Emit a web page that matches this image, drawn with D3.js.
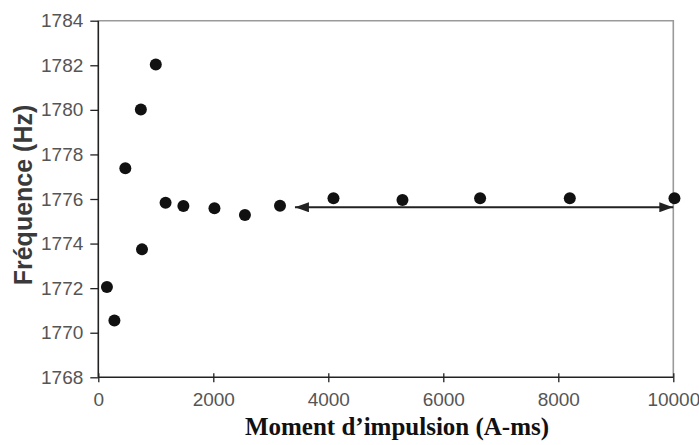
<!DOCTYPE html>
<html><head><meta charset="utf-8">
<script src="https://cdn.jsdelivr.net/npm/d3@7"></script>
<style>body{margin:0;background:#fff}svg{display:block}</style>
</head><body><svg id="c" width="699" height="445"></svg>
<script>
const impulse = [150, 280, 470, 760, 740, 1000, 1170, 1480, 2020, 2550, 3160, 4090, 5290, 6640, 8200, 10020];
const freq = [1772.05, 1770.55, 1777.38, 1773.74, 1780.02, 1782.04, 1775.83, 1775.69, 1775.58, 1775.28, 1775.7, 1776.03, 1775.95, 1776.03, 1776.03, 1776.03];
const xTicks = [0, 2000, 4000, 6000, 8000, 10000];
const yTicks = [1768, 1770, 1772, 1774, 1776, 1778, 1780, 1782, 1784];
const arrowRange = [3420, 10000];
const arrowY = 1775.63;

const svg = d3.select('#c');
const L = 98.3, R = 673.3, T = 20.7, B = 377.3;
const x = d3.scaleLinear().domain([0, 10000]).range([L, R]);
const y = d3.scaleLinear().domain([1768, 1784]).range([B, T]);

// top / right frame
svg.append('path').attr('d', `M${L},${T}H${R}V${B}`).attr('fill','none').attr('stroke','#9a9a9a').attr('stroke-width',1.6);

const gy = svg.append('g').attr('transform', `translate(${L},0)`)
  .call(d3.axisLeft(y).tickValues(yTicks).tickFormat(d3.format('d')).tickSize(8).tickPadding(7));
const gx = svg.append('g').attr('transform', `translate(0,${B})`)
  .call(d3.axisBottom(x).tickValues(xTicks).tickFormat(d3.format('d')).tickSize(6).tickPadding(9));
gx.selectAll('.tick line').attr('y1', -4).attr('y2', 5);
[gx, gy].forEach(g => {
  g.select('.domain').attr('stroke', '#222').attr('stroke-width', 1.6);
  g.selectAll('.tick line').attr('stroke', '#222').attr('stroke-width', 1.3);
  g.selectAll('.tick text').attr('fill', '#555').attr('font-family', 'Liberation Sans, Arial, sans-serif').attr('font-size', 19);
});
gx.select('.domain').attr('d', `M${L},0H${R}`);
gy.select('.domain').attr('d', `M0,${B}V${T}`);

// arrow
const defs = svg.append('defs');
defs.append('marker').attr('id','ah').attr('viewBox','0 0 14 10').attr('refX',14).attr('refY',5)
  .attr('markerWidth',14).attr('markerHeight',10).attr('markerUnits','userSpaceOnUse').attr('orient','auto-start-reverse')
  .append('path').attr('d','M0,0L14,5L0,10Z').attr('fill','#222');
svg.append('line').attr('x1', x(arrowRange[0])).attr('x2', x(arrowRange[1]))
  .attr('y1', y(arrowY)).attr('y2', y(arrowY)).attr('stroke','#222').attr('stroke-width',2)
  .attr('marker-start','url(#ah)').attr('marker-end','url(#ah)');

// points
svg.append('g').selectAll('circle').data(impulse.map((d,i)=>[d,freq[i]])).join('circle')
  .attr('cx', d => x(d[0])).attr('cy', d => y(d[1])).attr('r', 6).attr('fill', '#111');

// titles
svg.append('text').attr('transform', 'translate(32,195) rotate(-90)').attr('text-anchor','middle')
  .attr('font-family','Liberation Sans, Arial, sans-serif').attr('font-weight','bold').attr('font-size',25)
  .attr('fill','#3a3a3a').text('Fréquence (Hz)');
svg.append('text').attr('x', 397).attr('y', 435).attr('text-anchor','middle')
  .attr('font-family','Liberation Serif, Times New Roman, serif').attr('font-weight','bold').attr('font-size',25)
  .attr('fill','#111').text('Moment d’impulsion (A-ms)');
</script></body></html>
